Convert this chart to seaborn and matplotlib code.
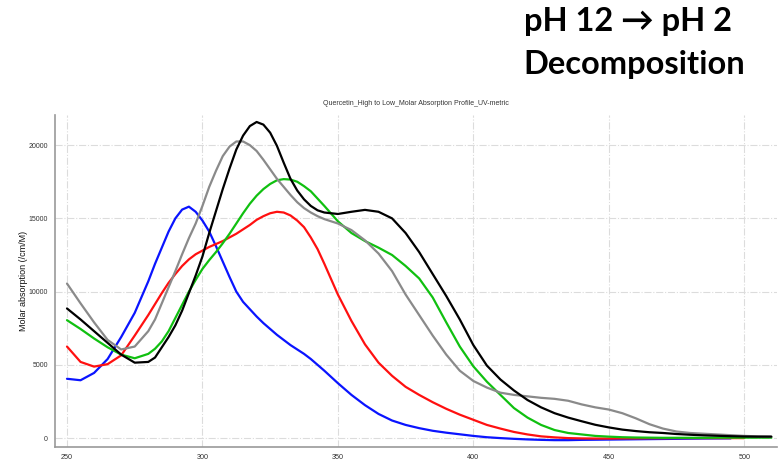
import numpy as np
import pandas as pd
import matplotlib
matplotlib.use("Agg")
import matplotlib.pyplot as plt
import seaborn as sns

nan = np.nan
wavelength = ([250, 255, 260, 265, 270, 275, 280,
               282.5, 285, 287.5, 290, 292.5, 295, 297.5, 300, 302.5, 305,
               307.5, 310, 312.5, 315, 317.5, 320, 322.5, 325, 327.5, 330,
               332.5, 335, 337.5, 340, 342.5, 345]
              + list(range(350, 515, 5)))

blue = [4050, 3950, 4450, 5400, 6900, 8550, 10700,
        11900, 13000, 14100, 15000, 15600, 15800, 15450, 14850, 14100, 13100,
        12050, 11000, 10000, 9300, 8800, 8300, 7850, 7450, 7050, 6700,
        6350, 6050, 5750, 5400, 5000, 4600,
        3750, 2950, 2250, 1650, 1200, 900, 680, 500, 370, 260,
        150, 60, 0, -50, -90, -120, -140, -140, -120, -110,
        -100, -90, -80, -70, -60, -50, -40, -30, -25, -20,
        nan, nan, nan]
red = [6250, 5200, 4880, 5050, 5650, 7000, 8400,
       9150, 9900, 10600, 11200, 11750, 12200, 12550, 12800, 13050, 13250,
       13450, 13700, 13950, 14250, 14550, 14900, 15150, 15350, 15450, 15400,
       15200, 14850, 14400, 13700, 12900, 11900,
       9800, 8000, 6400, 5150, 4250, 3500, 2950, 2450, 2000, 1600,
       1250, 900, 650, 420, 250, 120, 50, 0, -20, -30,
       -30, -20, -20, -10, -10, 0, 0, 0, 0, 0,
       0, nan, nan]
green = [8050, 7450, 6800, 6200, 5700, 5450, 5750,
         6100, 6600, 7300, 8200, 9100, 10000, 10800, 11550, 12150, 12700,
         13300, 13950, 14650, 15350, 16000, 16550, 17000, 17350, 17600, 17680,
         17650, 17500, 17200, 16850, 16350, 15850,
         14800, 14000, 13450, 13000, 12500, 11750, 10900, 9600, 7900, 6250,
         4900, 3850, 2950, 2050, 1400, 900, 550, 350, 250, 150,
         100, 60, 40, 30, 20, 20, 20, 20, 30, 30,
         30, 30, 30]
black = [8850, 8100, 7300, 6500, 5700, 5150, 5200,
         5500, 6200, 6900, 7700, 8700, 9900, 11100, 12400, 14000, 15500,
         17000, 18400, 19700, 20650, 21300, 21580, 21400, 20850, 19950, 18800,
         17700, 16900, 16300, 15850, 15550, 15400,
         15300, 15450, 15580, 15450, 15000, 14000, 12700, 11200, 9700, 8100,
         6350, 4950, 4000, 3250, 2600, 2100, 1700, 1400, 1150, 910,
         730, 580, 480, 400, 350, 280, 230, 190, 160, 130,
         110, 100, 100]
gray = [10550, 9200, 7900, 6700, 6050, 6250, 7300,
        8100, 9200, 10300, 11400, 12550, 13650, 14650, 15850, 17150, 18250,
        19250, 19900, 20250, 20250, 20000, 19600, 19000, 18350, 17700, 17150,
        16600, 16100, 15700, 15400, 15150, 14950,
        14650, 14200, 13500, 12600, 11400, 9800, 8400, 7000, 5700, 4600,
        3900, 3450, 3100, 2950, 2850, 2750, 2680, 2550, 2300, 2100,
        1950, 1700, 1350, 950, 650, 450, 350, 300, 250, 200,
        150, 120, 100]

series_names = ["blue", "red", "green", "gray", "black"]
series_values = [blue, red, green, gray, black]
colors = {"blue": "#0a14ff", "red": "#ff1010", "green": "#10c010",
          "gray": "#8a8a8a", "black": "#000000"}

x_ticks = [250, 300, 350, 400, 450, 500]
y_ticks = [0, 5000, 10000, 15000, 20000]
title = "Quercetin_High to Low_Molar Absorption Profile_UV-metric"
ylabel = "Molar absorption (/cm/M)"
headline = "pH 12 \u2192 pH 2\nDecomposition"

frames = []
for n, v in zip(series_names, series_values):
    frames.append(pd.DataFrame({"wl": wavelength, "val": v, "series": n}))
df = pd.concat(frames, ignore_index=True).dropna()

sns.set_style("white")
narrow = ["Liberation Sans Narrow", "Liberation Sans", "DejaVu Sans"]
plt.rcParams["font.family"] = narrow
plt.rcParams["lines.solid_joinstyle"] = "round"

fig = plt.figure(figsize=(7.83, 4.66), dpi=100)
ax = fig.add_axes([0.070, 0.041, 0.922, 0.712])

sns.lineplot(data=df, x="wl", y="val", hue="series", palette=colors,
             hue_order=series_names, linewidth=1.6, legend=False, ax=ax,
             sort=True, estimator=None)

ax.set_xlim(245.5, 512)
ax.set_ylim(-600, 22050)
ax.set_xticks(x_ticks)
ax.set_yticks(y_ticks)
ax.set_xticklabels([str(t) for t in x_ticks], fontsize=5.2, color="#333333")
ax.set_yticklabels([str(t) for t in y_ticks], fontsize=5.0, color="#333333")
ax.tick_params(axis="both", length=3, width=0.6, color="#888888", pad=2)
ax.set_xlabel("")
ax.set_ylabel(ylabel, fontsize=6.5, color="#111111")
ax.yaxis.set_label_coords(-0.037, 0.5)
ax.set_title(title, fontsize=5.0, color="#333333", pad=7)

ax.grid(True, linestyle="-.", color="#dcdcdc", linewidth=0.8)
ax.set_axisbelow(True)
for s in ["top", "right"]:
    ax.spines[s].set_visible(False)
for s in ["left", "bottom"]:
    ax.spines[s].set_color("#999999")
    ax.spines[s].set_linewidth(1.2)

fig.text(0.669, 0.984, headline, fontsize=23.5, fontweight="bold",
         family=["Lato", "DejaVu Sans"], va="top", ha="left",
         linespacing=1.58, color="#000000")

fig.savefig("out.png", dpi=100)
